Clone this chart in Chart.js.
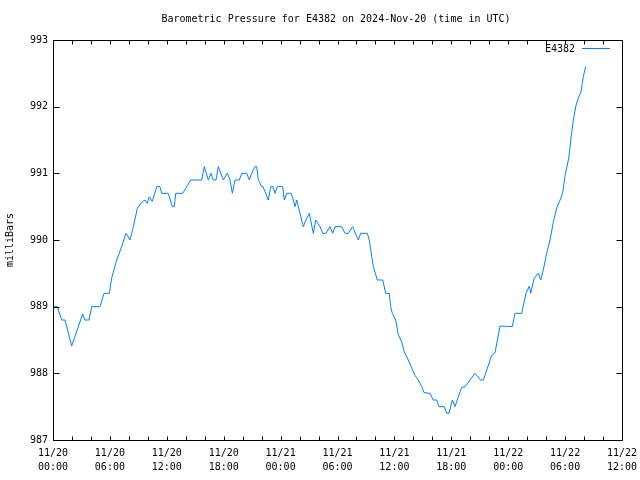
<!DOCTYPE html>
<html>
<head>
<meta charset="utf-8">
<title>Barometric Pressure E4382</title>
<script src="https://cdn.jsdelivr.net/npm/chart.js@4/dist/chart.umd.min.js"></script>
<style>
  html, body { margin: 0; padding: 0; background: #fff; }
  #wrap { width: 640px; height: 480px; }
</style>
</head>
<body>
<div id="wrap"><canvas id="baroChart" width="640" height="480"></canvas></div>
<script>
// hours since 2024-11-20 00:00 UTC
var hours = [
    0.0, 0.45, 0.92, 1.27, 1.97, 3.13, 3.37, 3.80, 4.08, 4.96,
    5.38, 5.94, 6.19, 6.72, 7.24, 7.70, 8.12, 8.47, 8.89, 9.25,
    9.70, 9.94, 10.15, 10.47, 10.94, 11.28, 11.46, 12.16, 12.58, 12.79,
    12.94, 13.68, 14.10, 14.52, 15.68, 15.95, 16.38, 16.66, 16.90, 17.19,
    17.43, 17.96, 18.38, 18.67, 18.91, 19.19, 19.65, 19.90, 20.43, 20.70,
    20.95, 21.30, 21.48, 21.65, 22.01, 22.15, 22.70, 22.96, 23.20, 23.41,
    23.65, 24.22, 24.39, 24.64, 25.10, 25.34, 25.52, 25.70, 26.05, 26.39,
    26.68, 27.03, 27.45, 27.70, 28.16, 28.44, 28.79, 29.21, 29.49, 29.74,
    30.44, 30.79, 31.14, 31.60, 32.19, 32.45, 33.14, 33.35, 33.61, 33.78,
    34.20, 34.77, 35.08, 35.46, 35.61, 35.78, 36.14, 36.41, 36.77, 37.05,
    37.47, 37.83, 38.17, 38.52, 38.88, 39.12, 39.76, 40.10, 40.46, 40.70,
    41.26, 41.52, 41.76, 42.11, 42.39, 42.74, 43.10, 43.45, 44.50, 45.10,
    45.38, 46.26, 46.61, 47.14, 48.43, 48.72, 49.42, 49.88, 50.23, 50.37,
    50.75, 51.18, 51.43, 51.70, 52.06, 52.41, 52.76, 53.12, 53.47, 53.74,
    53.98, 54.41, 54.62, 54.87, 55.15, 55.39, 55.67, 55.92, 56.17
];
var pressure = [
    989.0, 989.0, 988.8, 988.8, 988.41, 988.89, 988.8, 988.8, 989.0, 989.0,
    989.2, 989.2, 989.43, 989.7, 989.9, 990.1, 990.0, 990.2, 990.47, 990.55,
    990.6, 990.55, 990.65, 990.58, 990.8, 990.8, 990.7, 990.7, 990.5, 990.5,
    990.7, 990.7, 990.8, 990.9, 990.9, 991.1, 990.9, 991.0, 990.9, 990.9,
    991.1, 990.9, 991.0, 990.9, 990.7, 990.9, 990.9, 991.0, 991.0, 990.9,
    991.0, 991.1, 991.1, 990.9, 990.8, 990.8, 990.6, 990.8, 990.8, 990.7,
    990.8, 990.8, 990.6, 990.7, 990.7, 990.6, 990.5, 990.6, 990.4, 990.2,
    990.3, 990.4, 990.1, 990.3, 990.2, 990.1, 990.1, 990.2, 990.1, 990.2,
    990.2, 990.1, 990.1, 990.2, 990.0, 990.1, 990.1, 990.0, 989.75, 989.6,
    989.4, 989.4, 989.2, 989.2, 989.0, 988.9, 988.8, 988.58, 988.47, 988.32,
    988.2, 988.08, 987.97, 987.9, 987.8, 987.71, 987.7, 987.6, 987.6, 987.5,
    987.5, 987.4, 987.4, 987.6, 987.5, 987.65, 987.79, 987.8, 988.0, 987.9,
    987.9, 988.27, 988.31, 988.71, 988.7, 988.9, 988.9, 989.2, 989.31, 989.2,
    989.43, 989.5, 989.4, 989.55, 989.8, 990.0, 990.27, 990.48, 990.6, 990.7,
    990.95, 991.25, 991.53, 991.8, 992.02, 992.13, 992.22, 992.45, 992.6
];
var xTicks = [0, 6, 12, 18, 24, 30, 36, 42, 48, 54, 60];
var yTicks = [987, 988, 989, 990, 991, 992, 993];

var points = [];
for (var i = 0; i < hours.length; i++) {
    points.push({ x: hours[i], y: pressure[i] });
}

var monoFont = "'DejaVu Sans Mono', 'Liberation Mono', monospace";

function pad2(n) { return (n < 10 ? '0' : '') + n; }

// frame, inward ticks, title, y label and key, gnuplot style
var framePlugin = {
    id: 'frame',
    afterDraw: function (chart) {
        var c = chart.ctx;
        var a = chart.chartArea;
        var xs = chart.scales.x, ys = chart.scales.y;
        var l = Math.round(a.left) + 0.5, r = Math.round(a.right) + 0.5;
        var t = Math.round(a.top) + 0.5, b = Math.round(a.bottom) + 0.5;
        c.save();
        c.strokeStyle = '#000';
        c.lineWidth = 1;
        c.strokeRect(l, t, r - l, b - t);
        c.beginPath();
        yTicks.forEach(function (v) {
            var py = Math.round(ys.getPixelForValue(v)) + 0.5;
            c.moveTo(l, py); c.lineTo(l + 6, py);
            c.moveTo(r, py); c.lineTo(r - 6, py);
        });
        for (var h = 0; h <= 60; h += 2) {
            var px = Math.round(xs.getPixelForValue(h)) + 0.5;
            c.moveTo(px, b); c.lineTo(px, b - 4);
            c.moveTo(px, t); c.lineTo(px, t + 4);
        }
        c.stroke();

        c.fillStyle = '#000';
        c.font = '10px ' + monoFont;
        c.textAlign = 'center';
        c.textBaseline = 'middle';
        c.fillText('Barometric Pressure for E4382 on 2024-Nov-20 (time in UTC)', 336, 19);

        c.save();
        c.translate(10, 240);
        c.rotate(-Math.PI / 2);
        c.fillText('milliBars', 0, 0);
        c.restore();

        c.textAlign = 'right';
        c.fillText('E4382', 575, 49);
        c.strokeStyle = '#0080ff';
        c.beginPath();
        c.moveTo(582, 48.5); c.lineTo(610, 48.5);
        c.stroke();
        c.restore();
    }
};

new Chart(document.getElementById('baroChart'), {
    type: 'line',
    data: {
        datasets: [{
            label: 'E4382',
            data: points,
            borderColor: '#0080ff',
            borderWidth: 1,
            pointRadius: 0,
            tension: 0,
            fill: false
        }]
    },
    options: {
        responsive: false,
        animation: false,
        devicePixelRatio: 1,
        layout: { padding: { top: 40, right: 18, left: 0, bottom: 0 } },
        plugins: {
            legend: { display: false },
            title: { display: false },
            tooltip: { enabled: false }
        },
        scales: {
            x: {
                type: 'linear',
                min: 0,
                max: 60,
                afterFit: function (s) {
                    s.height = 40;
                    s.paddingLeft = 0;
                    s.paddingRight = 0;
                },
                afterBuildTicks: function (s) {
                    s.ticks = xTicks.map(function (v) { return { value: v }; });
                },
                grid: { display: false, drawTicks: false },
                border: { display: false },
                ticks: {
                    color: '#000',
                    padding: 6,
                    maxRotation: 0,
                    autoSkip: false,
                    font: { family: monoFont, size: 10, lineHeight: 1.4 },
                    callback: function (v) {
                        var day = 20 + Math.floor(v / 24);
                        var hh = v % 24;
                        return ['11/' + day, pad2(hh) + ':00'];
                    }
                }
            },
            y: {
                min: 987,
                max: 993,
                afterFit: function (s) { s.width = 53; },
                afterBuildTicks: function (s) {
                    s.ticks = yTicks.map(function (v) { return { value: v }; });
                },
                grid: { display: false, drawTicks: false },
                border: { display: false },
                ticks: {
                    color: '#000',
                    padding: 5,
                    font: { family: monoFont, size: 10 }
                }
            }
        }
    },
    plugins: [framePlugin]
});
</script>
</body>
</html>
